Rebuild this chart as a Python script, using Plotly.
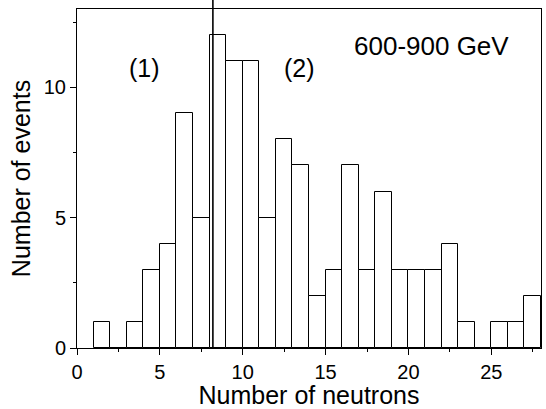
import plotly.graph_objects as go

# Histogram bins (left edges) and counts
bin_left = list(range(1, 28))
counts = [1, 0, 1, 3, 4, 9, 5, 12, 11, 11, 5, 8, 7, 2, 3, 7, 3, 6, 3, 3, 3, 4, 1, 0, 1, 1, 2]
cut_x = 8.2

labels = ["(1)", "(2)", "600-900 GeV"]
label_x = [4.1, 13.45, 21.4]
label_y = [10.75, 10.75, 11.6]

centers = [b + 0.5 for b in bin_left]

fig = go.Figure()
fig.add_trace(go.Bar(
    x=centers, y=counts, width=1,
    marker=dict(color="white", line=dict(color="black", width=1)),
    showlegend=False,
))

fig.add_shape(type="line", xref="x", yref="paper", x0=cut_x, x1=cut_x, y0=0, y1=1.03,
              line=dict(color="black", width=1.6))

for t, xx, yy in zip(labels, label_x, label_y):
    fig.add_annotation(x=xx, y=yy, text=t, showarrow=False, xref="x", yref="y",
                       font=dict(size=26 if t == "600-900 GeV" else 25, color="black"))

axis_common = dict(
    showline=True, linecolor="black", linewidth=1, mirror=True,
    ticks="outside", ticklen=6, tickwidth=1, tickcolor="black",
    showgrid=False, zeroline=False,
    tickfont=dict(size=20, color="black"),
    minor=dict(ticks="outside", ticklen=3, tickwidth=1, tickcolor="black"),
)

fig.update_xaxes(range=[0, 28], dtick=5, tick0=0,
                 title=dict(text="Number of neutrons", font=dict(size=25, color="black"), standoff=0),
                 **axis_common)
fig.update_yaxes(range=[0, 13], dtick=5, tick0=0,
                 title=dict(text="Number of events", font=dict(size=25, color="black"), standoff=6),
                 **axis_common)
fig.update_xaxes(minor=dict(dtick=2.5))
fig.update_yaxes(minor=dict(dtick=2.5))

fig.update_layout(
    width=546, height=409,
    margin=dict(l=77, r=5, t=9, b=61),
    plot_bgcolor="white", paper_bgcolor="white",
    font=dict(family="Liberation Sans, Arial, sans-serif", color="black"),
    bargap=0,
)

fig.write_html("out.html", config={"displayModeBar": False},
               post_script="document.body.style.margin='0px';")
